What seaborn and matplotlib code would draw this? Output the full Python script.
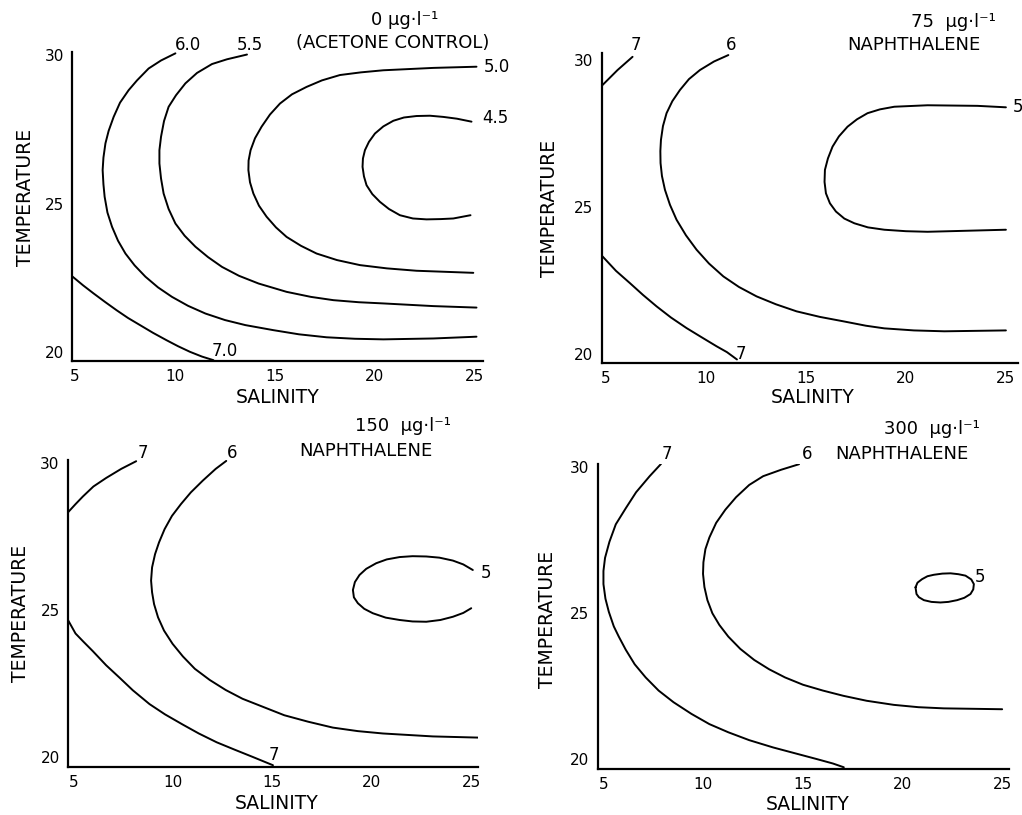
import matplotlib
matplotlib.use("Agg")
import matplotlib.pyplot as plt
import seaborn as sns

# ---------------- data (salinity, temperature) for each contour ----------------
# Panel A: 0 ug/l (acetone control)
A_70_SAL = [4.88, 5.4, 5.92, 6.5, 7.08, 7.65, 8.25, 8.9, 9.58, 10.15, 10.75, 11.35, 11.92]
A_70_TMP = [22.54, 22.25, 21.98, 21.69, 21.41, 21.15, 20.91, 20.65, 20.40, 20.2, 20.01, 19.85, 19.73]
A_60_SAL = [10.02, 9.3, 8.68, 8.1, 7.68, 7.25, 6.93, 6.68, 6.52, 6.42, 6.38, 6.42, 6.48, 6.62, 6.85, 7.15,
            7.52, 7.98, 8.52, 9.15, 9.85, 10.65, 11.52, 12.5, 13.52, 14.92, 16.2, 17.58, 19.0, 20.42, 22.92, 25.08]
A_60_TMP = [30.06, 29.82, 29.55, 29.15, 28.82, 28.4, 27.92, 27.45, 27.03, 26.55, 26.13, 25.65, 25.23, 24.7, 24.22, 23.75,
            23.32, 22.92, 22.54, 22.18, 21.86, 21.56, 21.30, 21.08, 20.91, 20.74, 20.6, 20.50, 20.45, 20.43, 20.46, 20.52]
A_55_SAL = [13.6, 12.6, 11.85, 11.1, 10.52, 10.05, 9.68, 9.45, 9.3, 9.22, 9.22, 9.3, 9.43, 9.68, 10.02, 10.48,
            11.02, 11.65, 12.35, 13.2, 14.18, 15.58, 16.8, 17.92, 19.2, 20.42, 22.92, 25.08]
A_55_TMP = [30.02, 29.86, 29.70, 29.4, 29.05, 28.65, 28.26, 27.78, 27.25, 26.8, 26.35, 25.85, 25.34, 24.82, 24.33, 23.92,
            23.55, 23.2, 22.87, 22.57, 22.31, 22.03, 21.86, 21.75, 21.68, 21.64, 21.55, 21.50]
A_50_SAL = [25.08, 22.92, 20.42, 19.3, 18.25, 17.35, 16.58, 15.85, 15.25, 14.75, 14.33, 14.0, 13.78, 13.68, 13.67,
            13.75, 13.92, 14.2, 14.58, 15.05, 15.58, 16.3, 17.08, 18.1, 19.25, 20.6, 22.08, 24.92]
A_50_TMP = [29.61, 29.57, 29.49, 29.42, 29.33, 29.15, 28.93, 28.68, 28.37, 28.0, 27.59, 27.2, 26.80, 26.45, 26.13,
            25.72, 25.34, 24.93, 24.56, 24.2, 23.88, 23.58, 23.32, 23.1, 22.93, 22.82, 22.74, 22.67]
A_45_SAL = [24.83, 24.1, 23.42, 22.75, 22.08, 21.45, 20.92, 20.42, 20.0, 19.7, 19.5, 19.4, 19.38, 19.45, 19.58,
            19.87, 20.25, 20.7, 21.25, 21.9, 22.58, 23.3, 23.92, 24.78]
A_45_TMP = [27.76, 27.86, 27.92, 27.96, 27.95, 27.9, 27.79, 27.6, 27.36, 27.08, 26.80, 26.52, 26.24, 25.92, 25.62,
            25.32, 25.06, 24.82, 24.61, 24.5, 24.47, 24.48, 24.50, 24.61]

# Panel B: 75 ug/l naphthalene
B_7T_SAL = [4.83, 5.58, 6.33]
B_7T_TMP = [29.15, 29.66, 30.11]
B_7B_SAL = [4.83, 5.5, 6.2, 6.85, 7.53, 8.25, 9.03, 9.8, 10.53, 11.05, 11.55]
B_7B_TMP = [23.31, 22.82, 22.40, 22.0, 21.61, 21.23, 20.87, 20.55, 20.25, 20.05, 19.8]
B_6_SAL = [11.12, 10.4, 9.7, 9.15, 8.7, 8.32, 8.03, 7.85, 7.75, 7.72, 7.73, 7.8, 7.95, 8.2, 8.53, 9.0, 9.53,
           10.15, 10.87, 11.65, 12.53, 13.5, 14.53, 15.7, 16.87, 18.0, 18.92, 20.4, 21.92, 25.0]
B_6_TMP = [30.17, 29.95, 29.66, 29.35, 28.98, 28.6, 28.19, 27.75, 27.28, 26.9, 26.49, 26.05, 25.58, 25.07, 24.56, 24.03, 23.54,
           23.07, 22.63, 22.27, 21.95, 21.68, 21.44, 21.25, 21.10, 20.95, 20.86, 20.79, 20.76, 20.79]
B_5_SAL = [25.0, 23.58, 21.08, 19.42, 18.7, 18.08, 17.55, 17.08, 16.65, 16.33, 16.1, 15.95, 15.93, 16.0, 16.2,
           16.5, 16.92, 17.42, 18.1, 18.92, 20.0, 21.08, 25.0]
B_5_TMP = [28.39, 28.44, 28.46, 28.41, 28.32, 28.19, 27.98, 27.73, 27.4, 27.05, 26.65, 26.26, 25.85, 25.46, 25.12,
           24.84, 24.6, 24.44, 24.3, 24.22, 24.17, 24.15, 24.22]

# Panel C: 150 ug/l naphthalene
C_7T_SAL = [4.72, 5.1, 5.47, 6.0, 6.64, 7.4, 8.15]
C_7T_TMP = [28.32, 28.6, 28.86, 29.2, 29.49, 29.8, 30.06]
C_7B_SAL = [4.72, 5.1, 5.5, 5.97, 6.64, 7.31, 7.98, 8.82, 9.6, 10.5, 11.3, 12.2, 13.1, 14.02, 15.03]
C_7B_TMP = [24.66, 24.2, 23.92, 23.6, 23.12, 22.7, 22.27, 21.8, 21.45, 21.1, 20.8, 20.5, 20.25, 20.0, 19.72]
C_6_SAL = [12.68, 12.15, 11.5, 10.9, 10.4, 9.95, 9.58, 9.3, 9.1, 8.95, 8.9, 8.95, 9.05, 9.25, 9.55, 9.98, 10.5,
           11.1, 11.85, 12.65, 13.5, 14.55, 15.6, 16.8, 18.04, 19.3, 20.56, 23.07, 25.34]
C_6_TMP = [30.07, 29.8, 29.4, 29.0, 28.6, 28.2, 27.75, 27.3, 26.9, 26.45, 26.0, 25.6, 25.2, 24.75, 24.3, 23.85, 23.42,
           23.0, 22.62, 22.28, 21.98, 21.7, 21.42, 21.2, 21.0, 20.88, 20.80, 20.70, 20.66]
C_5_SAL = [25.08, 24.6, 24.08, 23.4, 22.74, 22.05, 21.40, 20.75, 20.22, 19.72, 19.38, 19.15, 19.05, 19.1, 19.30,
           19.62, 20.05, 20.7, 21.40, 22.05, 22.74, 23.45, 24.08, 24.6, 25.0]
C_5_TMP = [26.36, 26.55, 26.68, 26.78, 26.82, 26.83, 26.80, 26.72, 26.59, 26.4, 26.19, 25.95, 25.68, 25.43, 25.23,
           25.04, 24.89, 24.74, 24.66, 24.61, 24.60, 24.66, 24.77, 24.9, 25.06]

# Panel D: 300 ug/l naphthalene
D_7_SAL = [7.87, 7.3, 6.62, 6.1, 5.6, 5.28, 5.06, 4.98, 4.98, 5.08, 5.25, 5.5, 5.75, 6.1, 6.55, 7.1, 7.75,
           8.5, 9.4, 10.3, 11.25, 12.3, 13.5, 14.6, 15.7, 16.5, 17.05]
D_7_TMP = [30.12, 29.7, 29.15, 28.6, 28.05, 27.45, 26.9, 26.45, 26.0, 25.5, 25.05, 24.55, 24.2, 23.75, 23.25, 22.8, 22.35,
           21.95, 21.55, 21.2, 20.92, 20.65, 20.4, 20.2, 20.0, 19.85, 19.72]
D_6_SAL = [14.8, 13.9, 13.0, 12.3, 11.64, 11.1, 10.64, 10.3, 10.1, 10.0, 9.98, 10.05, 10.2, 10.45, 10.8, 11.25,
           11.85, 12.55, 13.3, 14.1, 15.0, 16.0, 17.03, 18.2, 19.56, 20.8, 22.07, 25.0]
D_6_TMP = [30.11, 29.92, 29.7, 29.4, 28.98, 28.55, 28.1, 27.6, 27.2, 26.75, 26.35, 25.9, 25.45, 25.0, 24.6, 24.2,
           23.78, 23.4, 23.08, 22.8, 22.55, 22.35, 22.17, 22.0, 21.86, 21.78, 21.74, 21.71]
D_5_SAL = [20.65, 20.75, 20.98, 21.25, 21.57, 22.0, 22.41, 22.8, 23.16, 23.45, 23.58, 23.55, 23.41, 23.1, 22.74,
           22.3, 21.90, 21.45, 21.07, 20.82, 20.70, 20.65]
D_5_TMP = [25.89, 26.05, 26.17, 26.27, 26.32, 26.36, 26.37, 26.34, 26.29, 26.16, 26.0, 25.82, 25.66, 25.53, 25.45,
           25.39, 25.37, 25.39, 25.45, 25.55, 25.66, 25.89]

SAL_TICKS = [5, 10, 15, 20, 25]
TEMP_TICKS = [20, 25, 30]

# ---------------- figure ----------------
sns.set_theme(style="white")
plt.rcParams["font.family"] = ["DejaVu Sans"]
plt.rcParams["text.color"] = "black"
plt.rcParams["axes.labelcolor"] = "black"
plt.rcParams["xtick.color"] = "black"
plt.rcParams["ytick.color"] = "black"

fig = plt.figure(figsize=(10.22, 8.15), dpi=100)

panels = [
    dict(rect=[0.0705, 0.557, 0.402, 0.379], xlim=(4.85, 25.4), ylim=(19.70, 30.10),
         curves=[(A_70_SAL, A_70_TMP), (A_60_SAL, A_60_TMP), (A_55_SAL, A_55_TMP),
                 (A_50_SAL, A_50_TMP), (A_45_SAL, A_45_TMP)],
         labels=[("6.0", 10.65, 30.34), ("5.5", 13.75, 30.34), ("5.0", 26.1, 29.6),
                 ("4.5", 26.0, 27.88), ("7.0", 12.5, 20.03)],
         title=[("0 μg·l⁻¹", 21.5, 31.18), ("(ACETONE CONTROL)", 20.9, 30.4)],
         ylab=(-0.114, 0.53), xlab=(0.50, -0.117)),
    dict(rect=[0.589, 0.5546, 0.407, 0.380], xlim=(4.8, 25.6), ylim=(19.68, 30.23),
         curves=[(B_7T_SAL, B_7T_TMP), (B_7B_SAL, B_7B_TMP), (B_6_SAL, B_6_TMP), (B_5_SAL, B_5_TMP)],
         labels=[("7", 6.5, 30.51), ("6", 11.25, 30.51), ("5", 25.62, 28.41), ("7", 11.75, 19.97)],
         title=[("75  μg·l⁻¹", 22.4, 31.29), ("NAPHTHALENE", 20.4, 30.51)],
         ylab=(-0.127, 0.50), xlab=(0.507, -0.11)),
    dict(rect=[0.0665, 0.0589, 0.401, 0.377], xlim=(4.72, 25.33), ylim=(19.66, 30.11),
         curves=[(C_7T_SAL, C_7T_TMP), (C_7B_SAL, C_7B_TMP), (C_6_SAL, C_6_TMP), (C_5_SAL, C_5_TMP)],
         labels=[("7", 8.49, 30.34), ("6", 12.96, 30.34), ("5", 25.75, 26.25), ("7", 15.1, 20.06)],
         title=[("150  μg·l⁻¹", 21.56, 31.25), ("NAPHTHALENE", 19.72, 30.4)],
         ylab=(-0.117, 0.50), xlab=(0.51, -0.12)),
    dict(rect=[0.585, 0.0564, 0.402, 0.374], xlim=(4.70, 25.33), ylim=(19.66, 30.11),
         curves=[(D_7_SAL, D_7_TMP), (D_6_SAL, D_6_TMP), (D_5_SAL, D_5_TMP)],
         labels=[("7", 8.18, 30.46), ("6", 15.21, 30.46), ("5", 23.91, 26.23)],
         title=[("300  μg·l⁻¹", 21.49, 31.31), ("NAPHTHALENE", 19.98, 30.46)],
         ylab=(-0.122, 0.49), xlab=(0.51, -0.115)),
]

for p in panels:
    ax = fig.add_axes(p["rect"])
    for sal, tmp in p["curves"]:
        sns.lineplot(x=sal, y=tmp, sort=False, estimator=None, color="black",
                     linewidth=1.4, ax=ax, solid_joinstyle="round", solid_capstyle="round")
    ax.set_xlim(*p["xlim"])
    ax.set_ylim(*p["ylim"])
    ax.set_xticks(SAL_TICKS)
    ax.set_yticks(TEMP_TICKS)
    ax.tick_params(length=0, labelsize=11, colors="black")
    ax.tick_params(axis="y", pad=6)
    ax.tick_params(axis="x", pad=6)
    for s in ["top", "right"]:
        ax.spines[s].set_visible(False)
    for s in ["left", "bottom"]:
        ax.spines[s].set_color("black")
        ax.spines[s].set_linewidth(1.6)
    ax.set_xlabel("SALINITY", fontsize=13.5, va="center")
    ax.set_ylabel("TEMPERATURE", fontsize=13.5, va="center")
    ax.xaxis.set_label_coords(*p["xlab"])
    ax.yaxis.set_label_coords(*p["ylab"])
    for txt, x, y in p["labels"]:
        ax.text(x, y, txt, fontsize=12, ha="center", va="center", clip_on=False)
    for txt, x, y in p["title"]:
        ax.text(x, y, txt, fontsize=13, ha="center", va="center", clip_on=False)
    ax.grid(False)

fig.savefig("out.png", dpi=100, facecolor="white")
